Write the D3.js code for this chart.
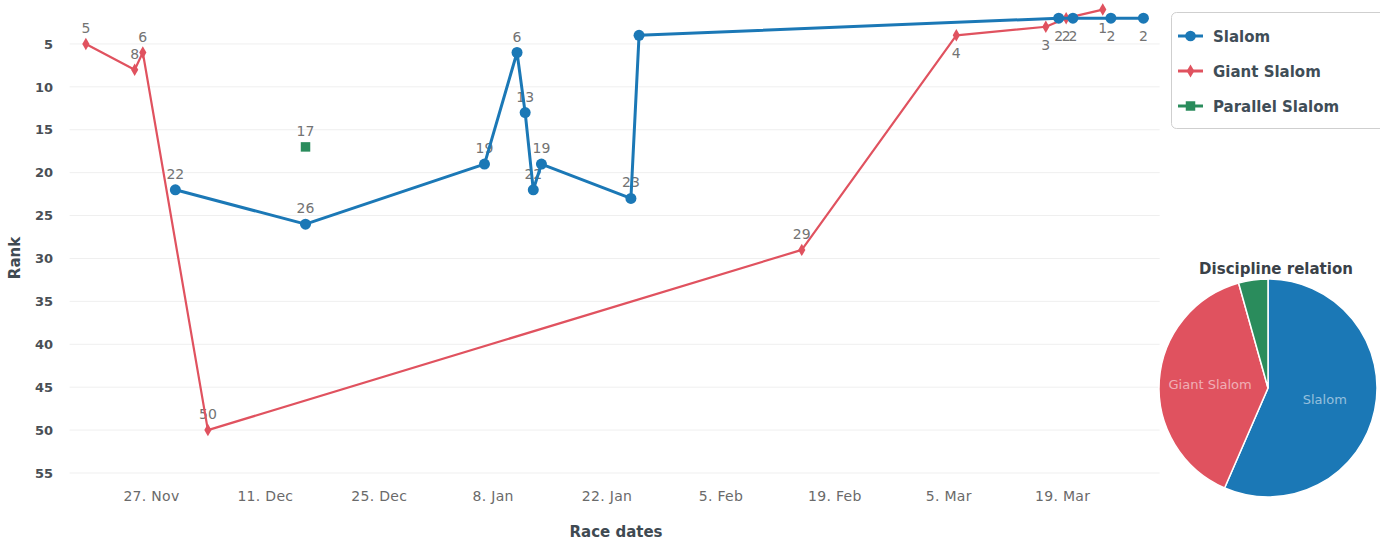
<!DOCTYPE html>
<html>
<head>
<meta charset="utf-8">
<script src="https://cdn.jsdelivr.net/npm/d3@7"></script>
<style>
html,body{margin:0;padding:0;background:#fff;}
svg{display:block;}
text{font-family:"DejaVu Sans",Verdana,sans-serif;}
</style>
</head>
<body>
<svg id="chart" width="1380" height="541"></svg>
<script>
// ---- data ----
const slalomDates = ["2017-11-30","2017-12-16","2018-01-07","2018-01-11","2018-01-12","2018-01-13","2018-01-14","2018-01-25","2018-01-26","2018-03-18T14:00","2018-03-20T08:00","2018-03-25","2018-03-29"];
const slalomRanks = [22,26,19,6,13,22,19,23,4,2,2,2,2];
const giantDates = ["2017-11-19","2017-11-25","2017-11-26","2017-12-04","2018-02-15","2018-03-06","2018-03-17","2018-03-19T12:00","2018-03-24"];
const giantRanks = [5,8,6,50,29,4,3,2,1];
const parallelDates = ["2017-12-16"];
const parallelRanks = [17];
const xTickDates = ["2017-11-27","2017-12-11","2017-12-25","2018-01-08","2018-01-22","2018-02-05","2018-02-19","2018-03-05","2018-03-19"];
const yTicks = [5,10,15,20,25,30,35,40,45,50,55];
const pieNames = ["Slalom","Giant Slalom","Parallel Slalom"];
const pieValues = [13,9,1];
const seriesNames = ["Slalom","Giant Slalom","Parallel Slalom"];

// ---- layout ----
const svg = d3.select("#chart");
const colors = {"Slalom":"#1b78b6","Giant Slalom":"#e0525f","Parallel Slalom":"#2a8c5c"};
const plot = {left:69.6, right:1159.7, top:9.6, bottom:473};
const parse = s => new Date(s.length > 10 ? s + "Z" : s + "T00:00Z");
const x = d3.scaleUtc().domain([parse("2017-11-17"), parse("2018-03-31")]).range([plot.left, plot.right]);
const y = d3.scaleLinear().domain([1,55]).range([plot.top, plot.bottom]);

// grid
svg.append("g").selectAll("line").data(yTicks).join("line")
  .attr("x1", plot.left).attr("x2", plot.right)
  .attr("y1", d => y(d)).attr("y2", d => y(d))
  .attr("stroke", "#efefef").attr("stroke-width", 1);

// y axis
const yAxis = d3.axisLeft(y).tickValues(yTicks).tickSize(0).tickPadding(0);
const gy = svg.append("g").attr("transform", "translate(53,0)").call(yAxis);
gy.select(".domain").remove();
gy.selectAll("text").attr("font-family","DejaVu Sans").attr("font-size",13).attr("font-weight","bold").attr("fill","#4a4f55");

// x axis
const xAxis = d3.axisBottom(x).tickValues(xTickDates.map(parse)).tickSize(0).tickPadding(0)
  .tickFormat(d3.utcFormat("%-d. %b"));
const gx = svg.append("g").attr("transform", "translate(0,491)").call(xAxis);
gx.select(".domain").remove();
gx.selectAll("text").attr("font-family","DejaVu Sans").attr("font-size",14).attr("fill","#6a6a6a")
  .attr("letter-spacing","0.3px").attr("dy","0.72em");

// axis titles
svg.append("text").attr("x",616).attr("y",537).attr("text-anchor","middle")
  .attr("font-size",15).attr("font-weight","bold").attr("fill","#3f4a52").text("Race dates");
svg.append("text").attr("transform","translate(20,258) rotate(-90)").attr("text-anchor","middle")
  .attr("font-size",15).attr("font-weight","bold").attr("fill","#3f4a52").text("Rank");

const series = [
  {name:"Giant Slalom", dates:giantDates, ranks:giantRanks, marker:"diamond"},
  {name:"Slalom", dates:slalomDates, ranks:slalomRanks, marker:"circle"},
  {name:"Parallel Slalom", dates:parallelDates, ranks:parallelRanks, marker:"square"}
];
const hiddenLabels = {"Slalom":[8]};

// data labels (drawn beneath the lines)
const labelG = svg.append("g");
series.forEach(s => {
  s.pts = s.dates.map((d,i) => ({x:x(parse(d)), y:y(s.ranks[i]), v:s.ranks[i], i}));
  labelG.selectAll(null).data(s.pts.filter(p => !(hiddenLabels[s.name]||[]).includes(p.i))).join("text")
    .attr("x", p => p.x)
    .attr("y", p => (p.y - 28 < plot.top) ? p.y + 23 : p.y - 11)
    .attr("text-anchor","middle").attr("font-size",14).attr("fill","#737373")
    .text(p => p.v);
});

// lines & markers
const line = d3.line().x(p => p.x).y(p => p.y);
series.forEach(s => {
  const g = svg.append("g");
  const c = colors[s.name];
  if (s.pts.length > 1) g.append("path").attr("d", line(s.pts)).attr("fill","none")
    .attr("stroke", c).attr("stroke-width", s.name === "Slalom" ? 3 : 2.2).attr("stroke-linejoin","round");
  const sym = s.marker === "circle" ? d3.symbolCircle : s.marker === "square" ? d3.symbolSquare : d3.symbolDiamond;
  const size = s.marker === "circle" ? 95 : s.marker === "square" ? 90 : 45;
  g.selectAll(null).data(s.pts).join("path")
    .attr("transform", p => `translate(${p.x},${p.y})`)
    .attr("d", d3.symbol().type(sym).size(size)).attr("fill", c);
});

// legend
const lg = svg.append("g");
lg.append("rect").attr("x",1171.5).attr("y",12.5).attr("width",220).attr("height",116)
  .attr("rx",5).attr("fill","#fff").attr("stroke","#cfcfcf");
const legendMarkers = {"Slalom":d3.symbolCircle, "Giant Slalom":d3.symbolDiamond, "Parallel Slalom":d3.symbolSquare};
seriesNames.forEach((n,i) => {
  const yy = 36 + i*35;
  lg.append("line").attr("x1",1178).attr("x2",1203).attr("y1",yy).attr("y2",yy)
    .attr("stroke",colors[n]).attr("stroke-width",3);
  lg.append("path").attr("transform",`translate(1190.5,${yy})`)
    .attr("d", d3.symbol().type(legendMarkers[n]).size(n==="Giant Slalom"?50:90)).attr("fill",colors[n]);
  lg.append("text").attr("x",1213).attr("y",yy+5.5).attr("font-size",15).attr("font-weight","bold")
    .attr("fill","#3f4d57").text(n);
});

// pie
const pc = {x:1268, y:388, r:109};
const pie = d3.pie().sort(null).value(d => d)(pieValues);
const arc = d3.arc().innerRadius(0).outerRadius(pc.r);
const labelArc = d3.arc().innerRadius(58).outerRadius(58);
const pg = svg.append("g").attr("transform",`translate(${pc.x},${pc.y})`);
pg.selectAll("path").data(pie).join("path").attr("d", arc)
  .attr("fill", (d,i) => colors[pieNames[i]]).attr("stroke","#fff").attr("stroke-width",1.5);
pg.selectAll("text").data(pie.slice(0,2)).join("text")
  .attr("transform", d => `translate(${labelArc.centroid(d)})`)
  .attr("text-anchor","middle").attr("dy","0.35em").attr("font-size",13)
  .attr("fill","#ffffff").attr("fill-opacity",0.55).text((d,i) => pieNames[i]);
svg.append("text").attr("x",1276).attr("y",274).attr("text-anchor","middle")
  .attr("font-size",15).attr("font-weight","bold").attr("fill","#3a4148").text("Discipline relation");
</script>
</body>
</html>
